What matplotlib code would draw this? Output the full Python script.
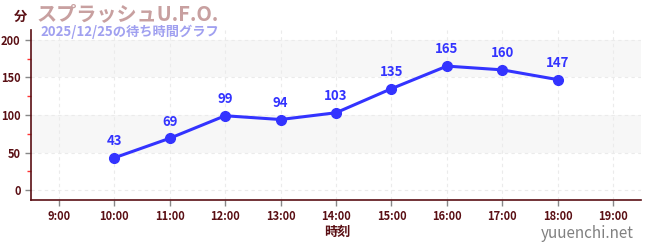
import matplotlib
matplotlib.use("Agg")
import matplotlib.pyplot as plt
from matplotlib.ticker import MultipleLocator

plt.rcParams['font.family'] = ['Noto Sans CJK JP', 'DejaVu Sans']

hours = [10, 11, 12, 13, 14, 15, 16, 17, 18]
waits = [43, 69, 99, 94, 103, 135, 165, 160, 147]
xticks = list(range(9, 20))
xlabels = [f"{h}:00" for h in xticks]
yticks = [0, 50, 100, 150, 200]

dark = '#5a0f14'
fig = plt.figure(figsize=(6.5, 2.5), dpi=100)
ax = fig.add_axes([31/650, 1-200/250, (641-31)/650, (200-30)/250])
ax.set_xlim(8.5, 19.5)
ax.set_ylim(-13, 213)

for lo, hi in [(50, 100), (150, 200)]:
    ax.axhspan(lo, hi, color='#f7f7f7', zorder=0, lw=0)
for y in yticks:
    ax.axhline(y, color='#ebebeb', lw=0.8, ls=(0, (3, 3)), zorder=1)
for x in xticks:
    ax.axvline(x, color='#ebebeb', lw=0.8, ls=(0, (3, 3)), zorder=1)

ax.plot(hours, waits, color='#3333ff', lw=2.2, marker='o', ms=7, zorder=3)
for h, w in zip(hours, waits):
    ax.annotate(str(w), (h, w), xytext=(0, 7), textcoords='offset points',
                ha='center', va='bottom', color='#3333ff', fontsize=9.5,
                fontweight='bold', zorder=4)

ax.set_xticks(xticks)
ax.set_xticklabels(xlabels)
ax.set_yticks(yticks)
ax.yaxis.set_minor_locator(MultipleLocator(25))
ax.tick_params(axis='both', which='major', colors='#888888', labelcolor=dark,
               labelsize=8, length=4, width=1)
ax.tick_params(axis='y', which='minor', colors='#ff3333', length=3, width=1)
for lab in ax.get_xticklabels() + ax.get_yticklabels():
    lab.set_fontweight('bold')

for s in ['top', 'right']:
    ax.spines[s].set_visible(False)
for s in ['left', 'bottom']:
    ax.spines[s].set_color(dark)
    ax.spines[s].set_linewidth(1.2)

fig.text(337/650, 1-232/250, '時刻', ha='center', va='center', color=dark,
         fontsize=9.5, fontweight='bold')
fig.text(20/650, 1-17/250, '分', ha='center', va='center', color=dark,
         fontsize=9.5, fontweight='bold')
fig.text(36/650, 1-14/250, 'スプラッシュU.F.O.', ha='left', va='center',
         color='#c8a0a0', fontsize=14.5, fontweight='bold')
fig.text(40/650, 1-32/250, '2025/12/25の待ち時間グラフ', ha='left', va='center',
         color='#a0a0f0', fontsize=9.5, fontweight='bold')
fig.text(634/650, 1-234/250, 'yuuenchi.net', ha='right', va='center',
         color='#808080', fontsize=11)

fig.savefig('out.png', dpi=100)
